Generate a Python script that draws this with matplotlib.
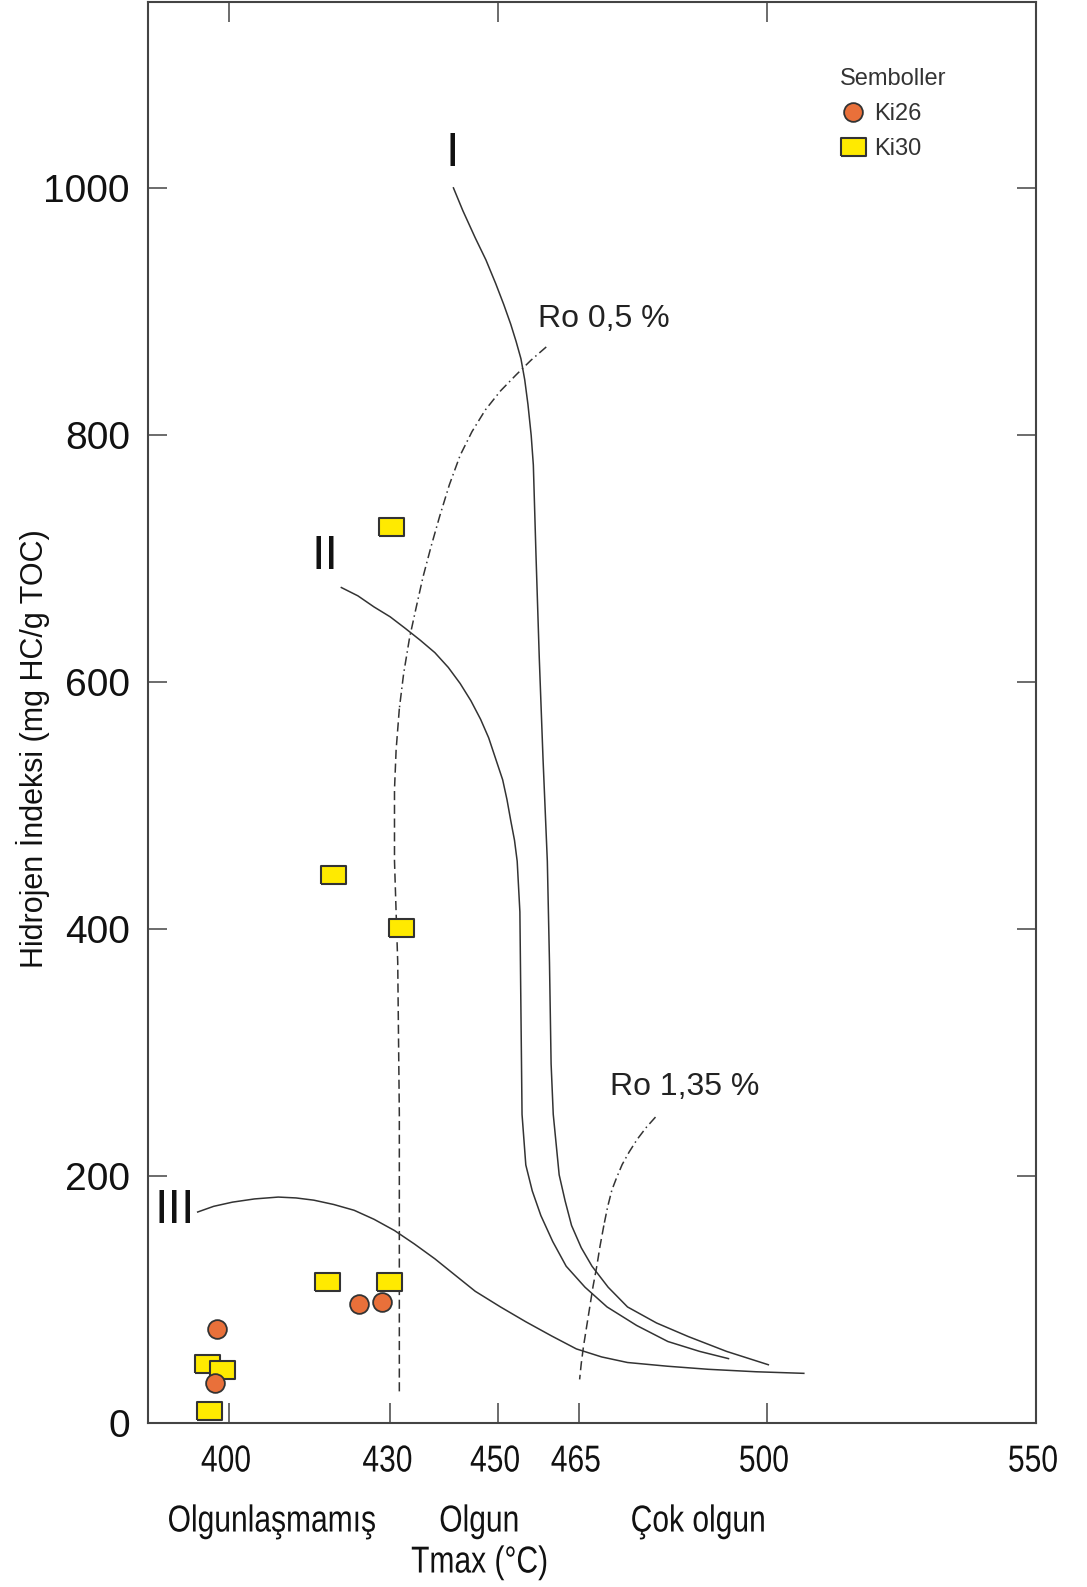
import numpy as np
import matplotlib
matplotlib.use("Agg")
import matplotlib.pyplot as plt
from matplotlib.textpath import TextPath
from matplotlib.patches import PathPatch
from matplotlib.font_manager import FontProperties
from matplotlib.transforms import Affine2D, IdentityTransform

# --- samples ---
ki26_tmax = [397.9, 397.5, 424.2, 428.5]
ki26_hi = [76, 32, 96, 98]
ki30_tmax = [430.2, 419.4, 432.1, 418.3, 429.7, 396.0, 398.8, 396.4]
ki30_hi = [726, 444, 401, 114, 114, 48, 43, 10]

# --- kerogen type evolution curves (Tmax, HI) ---
type1_tmax = [441.7, 443.5, 445.8, 447.8, 449.6, 451.1, 452.4, 453.4, 454.3, 455.0, 455.6, 456.2,
              456.6, 457.1, 457.7, 458.4, 459.2, 459.6, 459.9, 460.3, 461.4, 462.5, 463.7, 465.5,
              467.5, 470.5, 474.1, 479.5, 485.4, 492.5, 500.4]
type1_hi = [1001, 982, 960, 942, 923, 906, 890, 876, 862, 845, 825, 800,
            776, 702, 620, 538, 455, 373, 291, 250, 201, 180, 160, 142,
            127, 110, 94, 81, 70, 58, 47]
type2_tmax = [420.8, 424.0, 427.0, 430.0, 432.7, 435.6, 438.3, 440.8, 443.0, 445.0, 446.8, 448.3,
              449.6, 450.9, 451.7, 452.4, 453.1, 453.6, 454.1, 454.3, 454.5, 455.2, 456.4,
              458.0, 460.2, 462.7, 466.2, 470.3, 475.8, 481.6, 487.5, 493.0]
type2_hi = [677, 670, 661, 653, 644, 634, 624, 612, 599, 585, 570, 555,
            538, 521, 505, 488, 472, 455, 414, 332, 250, 209, 188,
            168, 147, 127, 110, 94, 79, 66, 58, 52]
type3_tmax = [394.1, 397.2, 400.7, 404.8, 409.2, 412.5, 415.8, 419.5, 423.3, 427.0, 430.8, 434.5,
              438.3, 442.0, 445.8, 450.5, 455.2, 460.0, 464.6, 469.3, 474.1, 481.5, 489.1, 498.0, 507.0]
type3_hi = [170.7, 175.5, 178.9, 181.5, 183.0, 182.3, 180.5, 177.0, 172.3, 165.0, 155.9, 145.0,
            133.0, 120.0, 106.7, 94.0, 82.0, 70.5, 60.0, 53.5, 49.0, 46.0, 43.5, 41.5, 40.2]

# --- vitrinite reflectance isolines ---
ro05_tmax = [459.0, 456.2, 453.4, 450.5, 447.7, 445.2, 443.0, 441.0, 439.2, 437.6, 436.1, 434.8,
             433.6, 432.5, 431.7]
ro05_hi = [871.6, 861.0, 849.0, 836.0, 820.7, 803.0, 783.8, 760.0, 734.5, 710.0, 685.3, 660.0,
           636.0, 607.0, 578.6]
ro05_low_tmax = [431.7, 431.1, 430.8, 430.8, 431.1, 431.4, 431.7, 431.7]
ro05_low_hi = [578.6, 545.0, 513.0, 455.5, 414.0, 373.4, 250.0, 22.0]
ro135_tmax = [479.3, 477.6, 475.9, 474.4, 473.1, 472.1, 471.2, 470.4, 469.7]
ro135_hi = [247.8, 239.5, 229.8, 219.5, 209.3, 199.0, 188.8, 175.0, 160.0]
ro135_low_tmax = [469.7, 469.0, 468.4, 467.7, 467.1, 466.5, 465.9, 465.5, 465.2]
ro135_low_hi = [160.0, 143.5, 127.2, 110.8, 94.4, 78.0, 61.5, 48.0, 35.3]

xticks = [400, 430, 450, 465, 500]
xlabel_pos = [400, 430, 450, 465, 500, 550]
xtick_labels = ["400", "430", "450", "465", "500", "550"]
top_ticks = [400, 450, 500]
yticks = [0, 200, 400, 600, 800, 1000]

plt.rcParams["font.family"] = ["Liberation Sans", "DejaVu Sans"]

W, H = 1087, 1587
DPI = 100
fig = plt.figure(figsize=(W / DPI, H / DPI), dpi=DPI)
ax = fig.add_axes([148 / W, 1 - 1423 / H, (1036 - 148) / W, (1423 - 2) / H])


def narrow_text(px, py, s, size=27, squeeze=0.8, color="#111111"):
    """Horizontally condensed text centred on pixel (px, py), y from the top."""
    tp = TextPath((0, 0), s, size=size, prop=FontProperties(family="Liberation Sans"))
    ext = tp.get_extents()
    cx = (ext.x0 + ext.x1) / 2
    cy = size * 0.36
    k = DPI / 72
    tr = (Affine2D().translate(-cx, -cy).scale(squeeze * k, k)
          .translate(px, H - py))
    fig.add_artist(PathPatch(tp, transform=tr + IdentityTransform(), lw=0,
                             facecolor=color, antialiased=True))


line_kw = dict(color="#333333", lw=1.1, solid_capstyle="butt")
ax.plot(type1_tmax, type1_hi, **line_kw)
ax.plot(type2_tmax, type2_hi, **line_kw)
ax.plot(type3_tmax, type3_hi, **line_kw)

dashdot = (0, (6, 2.5, 1, 2.5))
dashed = (0, (6, 3))
ax.plot(ro05_tmax, ro05_hi, color="#333333", lw=1.1, linestyle=dashdot)
ax.plot(ro05_low_tmax, ro05_low_hi, color="#333333", lw=1.1, linestyle=dashed)
ax.plot(ro135_tmax, ro135_hi, color="#333333", lw=1.1, linestyle=dashdot)
ax.plot(ro135_low_tmax, ro135_low_hi, color="#333333", lw=1.1, linestyle=dashed)

rect = [(-1, -0.72), (1, -0.72), (1, 0.72), (-1, 0.72), (-1, -0.72)]
ax.plot(ki30_tmax, ki30_hi, linestyle="none", marker=rect, markersize=18,
        markerfacecolor="#FFEA00", markeredgecolor="#333333", markeredgewidth=1.5,
        label="Ki30", zorder=5)
ax.plot(ki26_tmax, ki26_hi, linestyle="none", marker="o", markersize=13.5,
        markerfacecolor="#E9703A", markeredgecolor="#333333", markeredgewidth=1.3,
        label="Ki26", zorder=6)

# curve and isoline labels
ax.text(441.6, 1028, "I", fontsize=35, ha="center", va="center", color="#111111")
ax.text(417.8, 702, "II", fontsize=35, ha="center", va="center", color="#111111")
ax.text(389.9, 172, "III", fontsize=35, ha="center", va="center", color="#111111")
ax.text(469.7, 894, "Ro 0,5 %", fontsize=23, ha="center", va="center", color="#222222")
ax.text(484.8, 272, "Ro 1,35 %", fontsize=23, ha="center", va="center", color="#222222")

ax.set_xlim(385, 550)
ax.set_ylim(0, 1151)
ax.set_xticks(xticks)
ax.set_xticklabels([])
ax.set_yticks(yticks)
ax.set_yticklabels([str(v) for v in yticks], fontsize=28)
ax.tick_params(axis="x", direction="in", length=14.5, width=1.1, colors="#444444")
ax.tick_params(axis="y", direction="in", length=14, width=1.1, pad=13, right=True,
               colors="#444444", labelcolor="#111111")
top = ax.secondary_xaxis("top")
top.set_xticks(top_ticks)
top.set_xticklabels([])
top.tick_params(direction="in", length=14.5, width=1.1, colors="#444444")
top.spines["top"].set_visible(False)
for s in ax.spines.values():
    s.set_color("#444444")
    s.set_linewidth(1.5)

# condensed x tick labels
for v, lab in zip(xlabel_pos, xtick_labels):
    xp = ax.transData.transform((v, 0))[0]
    narrow_text(xp - 3, 1458, lab)

handles, labels = ax.get_legend_handles_labels()
leg = ax.legend(handles[::-1], labels[::-1], title="Semboller", frameon=False,
                loc="upper left", bbox_to_anchor=(828 / W, 1 - 56 / H),
                bbox_transform=fig.transFigure, fontsize=17, title_fontsize=17,
                handletextpad=0.35, labelspacing=0.55, handlelength=1.1, borderpad=0,
                alignment="left")
leg.get_title().set_color("#333333")
for t in leg.get_texts():
    t.set_color("#333333")

# axis titles and maturity zones
fig.text(33 / W, 1 - 749 / H, "Hidrojen İndeksi (mg HC/g TOC)", rotation=90,
         fontsize=22, ha="center", va="center", color="#111111")
narrow_text(272, 1518, "Olgunlaşmamış")
narrow_text(479, 1518, "Olgun")
narrow_text(698, 1518, "Çok olgun")
narrow_text(479, 1559, "Tmax (°C)")

fig.savefig("out.png", dpi=DPI)
